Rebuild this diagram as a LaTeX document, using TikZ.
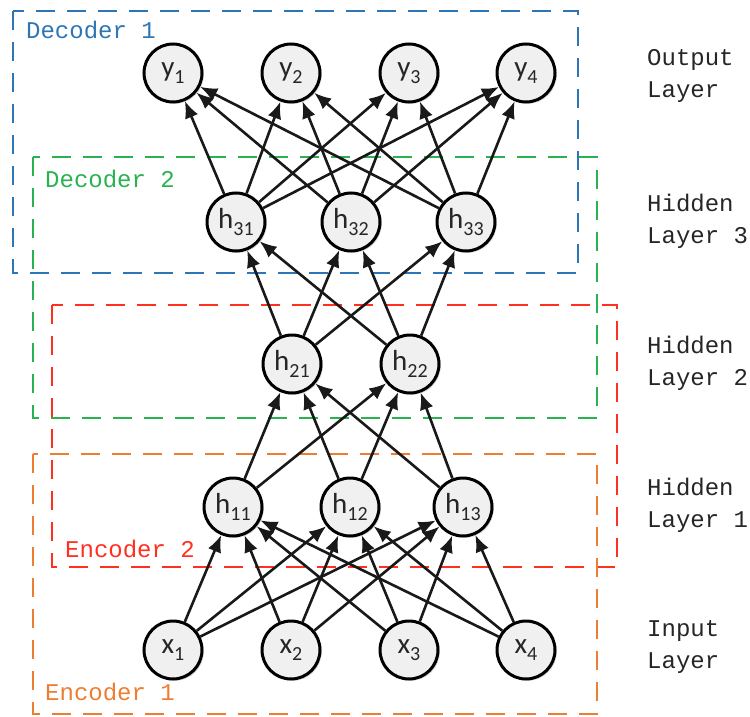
\documentclass[tikz,border=0pt]{standalone}
\usepackage{fontspec}
\setmainfont{Carlito}
\setmonofont{Liberation Mono}
\usetikzlibrary{arrows.meta,shadows}

\definecolor{decblue}{RGB}{46,117,182}
\definecolor{decgreen}{RGB}{40,178,80}
\definecolor{encred}{RGB}{255,48,32}
\definecolor{encorange}{RGB}{237,125,49}
\definecolor{unitfill}{RGB}{240,240,240}
\definecolor{unittext}{RGB}{38,38,38}

% unit label with a lowered index
\newcommand{\ulabel}[2]{#1\raisebox{-0.22em}{\fontsize{20}{21}\selectfont #2}}

\begin{document}
\begin{tikzpicture}[x=1pt,y=-1pt,
  unit/.style={circle,draw=black,line width=3pt,fill=unitfill,
    minimum size=58pt,inner sep=0pt,text=unittext,
    font=\fontsize{29}{30}\selectfont,
    drop shadow={opacity=0.3,shadow xshift=1.8pt,shadow yshift=-1.8pt}},
  link/.style={line width=2.6pt,draw=black!90,-{Latex[length=17pt,width=14pt]}},
  group/.style={line width=2.9pt,dash pattern=on 19pt off 12pt},
  grouplabel/.style={font=\ttfamily\fontsize{24}{28}\selectfont,anchor=west,inner sep=0pt},
  layerlabel/.style={font=\ttfamily\fontsize{24}{32}\selectfont,align=left,
    anchor=west,inner sep=0pt,text=black!85}]

\useasboundingbox (0,0) rectangle (750,717);

% group frames
\draw[group,decblue]   (13,11)  rectangle (578,273);
\draw[group,decgreen]  (33,157) rectangle (597,418);
\draw[group,encred]    (52,305) rectangle (617,567);
\draw[group,encorange] (33,454) rectangle (597,714);

\node[grouplabel,text=decblue]   (lblD1) at (26,30)  {Decoder 1};
\node[grouplabel,text=decgreen]  (lblD2) at (45,179) {Decoder 2};
\node[grouplabel,text=encred]    (lblE2) at (65,549) {Encoder 2};
\node[grouplabel,text=encorange] (lblE1) at (45,692) {Encoder 1};

% layer names
\node[layerlabel] (nOut) at (647,76)  {Output\\Layer};
\node[layerlabel] (nH3)  at (647,221) {Hidden\\Layer 3};
\node[layerlabel] (nH2)  at (647,363) {Hidden\\Layer 2};
\node[layerlabel] (nH1)  at (647,505) {Hidden\\Layer 1};
\node[layerlabel] (nIn)  at (647,647) {Input\\Layer};

% units
\node[unit] (y1) at (173,73) {\ulabel{y}{1}};
\node[unit] (y2) at (291,73) {\ulabel{y}{2}};
\node[unit] (y3) at (409,73) {\ulabel{y}{3}};
\node[unit] (y4) at (526,73) {\ulabel{y}{4}};

\node[unit] (h31) at (236,222) {\ulabel{h}{31}};
\node[unit] (h32) at (351,222) {\ulabel{h}{32}};
\node[unit] (h33) at (466,222) {\ulabel{h}{33}};

\node[unit] (h21) at (292,364) {\ulabel{h}{21}};
\node[unit] (h22) at (410,364) {\ulabel{h}{22}};

\node[unit] (h11) at (233,507) {\ulabel{h}{11}};
\node[unit] (h12) at (350,507) {\ulabel{h}{12}};
\node[unit] (h13) at (463,507) {\ulabel{h}{13}};

\node[unit] (x1) at (173,650) {\ulabel{x}{1}};
\node[unit] (x2) at (291,650) {\ulabel{x}{2}};
\node[unit] (x3) at (409,650) {\ulabel{x}{3}};
\node[unit] (x4) at (526,650) {\ulabel{x}{4}};

% fully connected links between neighbouring layers
\foreach \a in {x1,x2,x3,x4}
  \foreach \b in {h11,h12,h13}
    \draw[link] (\a) -- (\b);
\foreach \a in {h11,h12,h13}
  \foreach \b in {h21,h22}
    \draw[link] (\a) -- (\b);
\foreach \a in {h21,h22}
  \foreach \b in {h31,h32,h33}
    \draw[link] (\a) -- (\b);
\foreach \a in {h31,h32,h33}
  \foreach \b in {y1,y2,y3,y4}
    \draw[link] (\a) -- (\b);
\end{tikzpicture}
\end{document}
